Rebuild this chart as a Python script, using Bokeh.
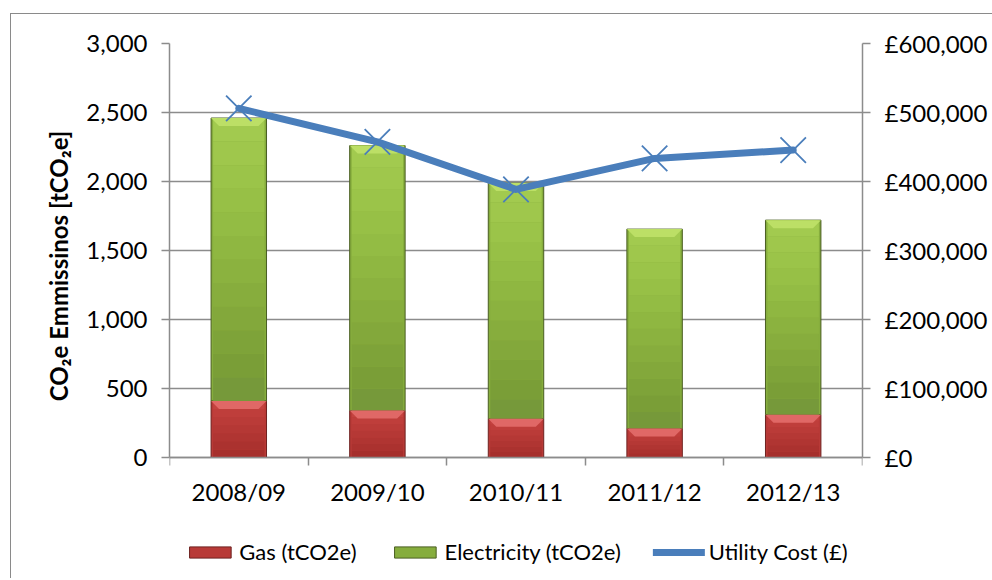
from bokeh.plotting import figure
from bokeh.models import (Range1d, LinearAxis, FixedTicker, NumeralTickFormatter,
                          CustomJSTickFormatter, Legend, LegendItem)
from bokeh.embed import file_html
from bokeh.resources import INLINE

years = ["2008/09", "2009/10", "2010/11", "2011/12", "2012/13"]
gas = [410, 340, 280, 210, 310]
electricity = [2050, 1920, 1710, 1445, 1410]
utility_cost = [506000, 457500, 388500, 433500, 445500]
left_ticks = [0, 500, 1000, 1500, 2000, 2500, 3000]
right_ticks = [0, 100000, 200000, 300000, 400000, 500000, 600000]
Y_MAX = 3000
COST_MAX = 600000

FONT = "Lato"
GRID = "#8c8c8c"
FS = "24px"
BORDER = "1.5px solid #8a8a8a"

RED, RED_LINE, RED_TOP = "#B83A37", "#6e2220", "#E06866"
GREEN, GREEN_LINE, GREEN_TOP = "#86AD3D", "#4a5e22", "#BCDF66"
BLUE = "#4A7EBB"

# layout in pixels: the value axis covers 414 px, the frame continues below it
# so that the category labels and the legend sit inside the frame (no clipping)
AXIS_PX = 414
BELOW_PX = 121
FRAME_W = 693
y_lo = -Y_MAX * BELOW_PX / AXIS_PX
cost_lo = -COST_MAX * BELOW_PX / AXIS_PX

xs = [i + 0.5 for i in range(len(years))]
totals = [g + e for g, e in zip(gas, electricity)]

p = figure(x_range=Range1d(0, len(years)), y_range=Range1d(y_lo, Y_MAX),
           frame_width=FRAME_W, frame_height=AXIS_PX + BELOW_PX,
           min_border_left=158, min_border_right=130, min_border_top=29, min_border_bottom=0,
           output_backend="svg", toolbar_location=None,
           background_fill_color="white", border_fill_color="white")
p.margin = (13, 0, 0, 10)
p.styles = {"border-top": BORDER, "border-left": BORDER}
p.outline_line_color = None
p.extra_y_ranges = {"cost": Range1d(cost_lo, COST_MAX)}

BAR_W = 0.4
PX_X = len(years) / FRAME_W
PX_Y = Y_MAX / AXIS_PX
bev_h = 8 * PX_Y
bev_in = 8 * PX_X

gas_r = p.vbar(x=xs, bottom=0, top=gas, width=BAR_W, fill_color=RED, line_color=RED_LINE, line_width=1)
el_r = p.vbar(x=xs, bottom=gas, top=totals, width=BAR_W, fill_color=GREEN, line_color=GREEN_LINE, line_width=1)

# soft vertical shading (imitates the gradient fill)
gas_shades = ["#A62F2C", "#AB322F", "#B03532", "#B53835", "#BA3B38", "#BF3E3B", "#C4423F"]
el_shades = ["#76993A", "#7A9E37", "#7EA339", "#83A83B", "#87AD3D", "#8BB23F",
             "#8FB741", "#93BC44", "#97C046", "#9BC449", "#9FC74C", "#A2CA4F"]
inner_w = BAR_W - 4 * PX_X
n = len(gas_shades)
for k, c in enumerate(gas_shades):
    p.vbar(x=xs, bottom=[g * k / n for g in gas], top=[g * (k + 1) / n for g in gas],
           width=inner_w, fill_color=c, line_color=None)
n = len(el_shades)
for k, c in enumerate(el_shades):
    p.vbar(x=xs, bottom=[g + e * k / n for g, e in zip(gas, electricity)],
           top=[g + e * (k + 1) / n for g, e in zip(gas, electricity)],
           width=inner_w, fill_color=c, line_color=None)


def bevels(tops):
    px, py = [], []
    for x, t in zip(xs, tops):
        px.append([x - BAR_W / 2, x + BAR_W / 2, x + BAR_W / 2 - bev_in, x - BAR_W / 2 + bev_in])
        py.append([t, t, t - bev_h, t - bev_h])
    return px, py


bx, by = bevels(gas)
p.patches(bx, by, fill_color=RED_TOP, line_color=None)
bx, by = bevels(totals)
p.patches(bx, by, fill_color=GREEN_TOP, line_color=None)

line_r = p.line(xs, utility_cost, y_range_name="cost", line_width=7,
                line_color=BLUE, line_join="round", line_cap="round")
mark_r = p.scatter(xs, utility_cost, y_range_name="cost", marker="x", size=36,
                   line_width=1.8, line_color=BLUE)

# axes
xa = p.xaxis[0]
xa.fixed_location = 0
xa.ticker = FixedTicker(ticks=xs, minor_ticks=list(range(len(years) + 1)))
xa.major_label_overrides = {x: y for x, y in zip(xs, years)}
xa.major_tick_line_color = None
xa.minor_tick_out = 8
xa.minor_tick_in = 0
xa.minor_tick_line_color = GRID
xa.minor_tick_line_width = 1.5
xa.axis_line_color = GRID
xa.axis_line_width = 1.5
xa.major_label_standoff = 11
xa.major_label_text_font = FONT
xa.major_label_text_font_size = FS
xa.major_label_text_color = "black"

ya = p.yaxis[0]
ya.bounds = (0, Y_MAX)
ya.ticker = FixedTicker(ticks=left_ticks)
ya.formatter = NumeralTickFormatter(format="0,0")
ya.minor_tick_line_color = None
ya.major_tick_out = 8
ya.major_tick_in = 0
ya.major_tick_line_color = GRID
ya.major_tick_line_width = 1.5
ya.axis_line_color = GRID
ya.axis_line_width = 1.5
ya.major_label_standoff = 14
ya.major_label_text_font = FONT
ya.major_label_text_font_size = FS
ya.major_label_text_color = "black"
# leading em spaces keep the visible label centred on the 0..3000 part of the axis
ya.axis_label = "\u2003" * 5 + "CO\u2082e Emmissinos [tCO\u2082e]"
ya.axis_label_text_font = FONT
ya.axis_label_text_font_style = "bold"
ya.axis_label_text_font_size = "24px"
ya.axis_label_text_color = "black"
ya.axis_label_standoff = 10

ra = LinearAxis(y_range_name="cost", ticker=FixedTicker(ticks=right_ticks), bounds=(0, COST_MAX),
                formatter=CustomJSTickFormatter(code="return '\u00a3' + tick.toLocaleString('en-GB');"))
ra.minor_tick_line_color = None
ra.major_tick_out = 8
ra.major_tick_in = 0
ra.major_tick_line_color = GRID
ra.major_tick_line_width = 1.5
ra.axis_line_color = GRID
ra.axis_line_width = 1.5
ra.major_label_standoff = 14
ra.major_label_text_font = FONT
ra.major_label_text_font_size = FS
ra.major_label_text_color = "black"
p.add_layout(ra, "right")

p.xgrid.visible = False
p.ygrid.ticker = FixedTicker(ticks=left_ticks)
p.ygrid.grid_line_color = GRID
p.ygrid.grid_line_width = 1.5

legend = Legend(items=[
    LegendItem(label="Gas (tCO2e)", renderers=[gas_r]),
    LegendItem(label="Electricity (tCO2e)", renderers=[el_r]),
    LegendItem(label="Utility Cost (\u00a3)", renderers=[line_r, mark_r]),
], orientation="horizontal", location="bottom_center")
legend.label_text_font = FONT
legend.label_text_font_size = "22px"
legend.label_text_color = "black"
legend.glyph_width = 52
legend.glyph_height = 14
legend.spacing = 32
legend.label_standoff = 4
legend.border_line_color = None
legend.background_fill_alpha = 0
legend.margin = 13
legend.padding = 2
p.add_layout(legend, "center")

open("out.html", "w").write(file_html(p, INLINE))
